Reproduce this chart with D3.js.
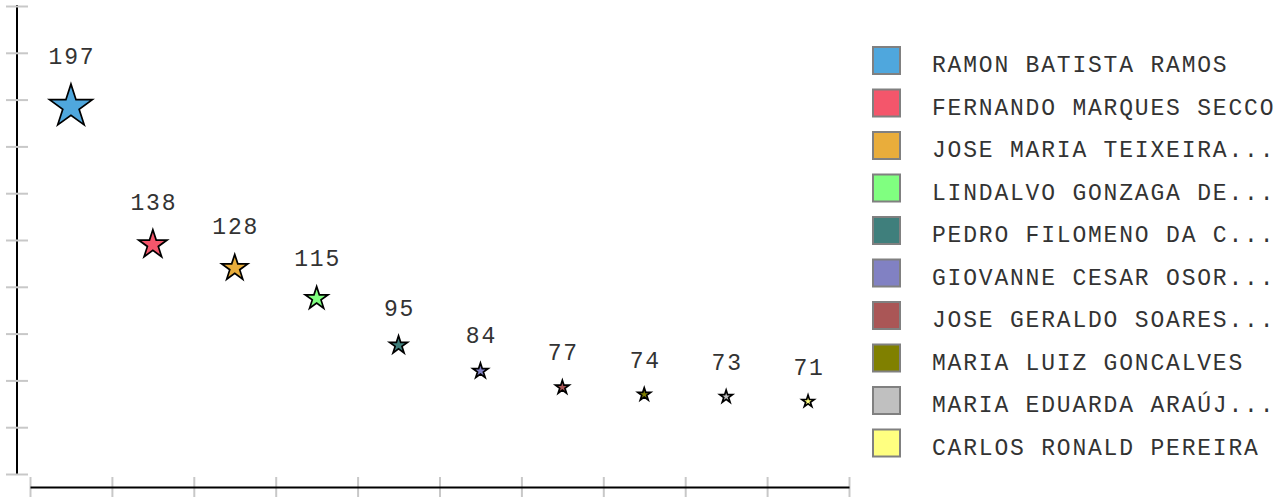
<!DOCTYPE html>
<html>
<head>
<meta charset="utf-8">
<script src="https://cdn.jsdelivr.net/npm/d3@7"></script>
<style>
  body { margin: 0; background: #fff; }
  svg text { font-family: "Liberation Mono", "Courier New", monospace; fill: #333; }
</style>
</head>
<body>
<div id="chart"></div>
<script>
// data
const names = [
    'RAMON BATISTA RAMOS',
    'FERNANDO MARQUES SECCO',
    'JOSE MARIA TEIXEIRA...',
    'LINDALVO GONZAGA DE...',
    'PEDRO FILOMENO DA C...',
    'GIOVANNE CESAR OSOR...',
    'JOSE GERALDO SOARES...',
    'MARIA LUIZ GONCALVES',
    'MARIA EDUARDA ARAÚJ...',
    'CARLOS RONALD PEREIRA'
];
const values = [197, 138, 128, 115, 95, 84, 77, 74, 73, 71];
const colors = ['#4FA7DD', '#F4566B', '#E9AD3B', '#80FF80', '#3F7F7C',
                '#8181C3', '#AA5656', '#808000', '#C0C0C0', '#FFFF80'];
const yDomain = [40, 240];

const width = 1282, height = 497;

const svg = d3.select('#chart').append('svg')
    .attr('width', width)
    .attr('height', height);

const x = d3.scaleBand().domain(names).range([30, 849]).padding(0);
const xIdx = d3.scaleLinear().domain([0, names.length]).range(x.range());
const y = d3.scaleLinear().domain(yDomain).range([474, 6]);
const r = d3.scaleLinear().domain([71, 197]).range([6.4, 22.5]);
const color = d3.scaleOrdinal().domain(names).range(colors);

// y axis (no labels, ticks crossing the line)
const yAxis = svg.append('g')
    .attr('transform', 'translate(17,0)')
    .call(d3.axisLeft(y).ticks(10).tickSizeOuter(0).tickFormat(''));
yAxis.select('.domain').attr('stroke', '#000').attr('stroke-width', 2)
    .attr('d', `M0,${y.range()[0] + 1}V${y.range()[1] - 1}`);
yAxis.selectAll('.tick line')
    .attr('x1', -11).attr('x2', 11)
    .attr('stroke', '#c8c8c8').attr('stroke-width', 2);

// x axis, ticks on band boundaries
const xAxis = svg.append('g')
    .attr('transform', 'translate(0,487)')
    .call(d3.axisBottom(xIdx).ticks(names.length).tickSizeOuter(0).tickFormat(''));
xAxis.selectAll('.tick line')
    .attr('y1', -10).attr('y2', 10)
    .attr('stroke', '#c8c8c8').attr('stroke-width', 2);
xAxis.select('.domain').attr('stroke', '#000').attr('stroke-width', 2).raise();

const data = names.map((n, i) => ({name: n, value: values[i]}));

const star = d3.symbol().type(d3.symbolStar);

const points = svg.append('g').selectAll('g')
    .data(data)
    .join('g')
    .attr('transform', d => `translate(${x(d.name) + x.bandwidth() / 2},${y(d.value)})`);

points.append('path')
    .attr('d', d => star.size(r(d.value) * r(d.value) / 0.8908130915292852)())
    .attr('fill', d => color(d.name))
    .attr('stroke', '#000')
    .attr('stroke-width', 1.7);

points.append('text')
    .attr('y', d => -r(d.value) - 20)
    .attr('text-anchor', 'middle')
    .attr('dx', 1)
    .style('font-size', '23px')
    .style('letter-spacing', '1.8px')
    .text(d => d.value);

// legend
const legend = svg.append('g').selectAll('g')
    .data(data)
    .join('g')
    .attr('transform', (d, i) => `translate(873,${47 + i * 42.5})`);

legend.append('rect')
    .attr('width', 27).attr('height', 27)
    .attr('fill', d => color(d.name))
    .attr('stroke', '#808080')
    .attr('stroke-width', 2);

legend.append('text')
    .attr('x', 59)
    .attr('y', 25)
    .style('font-size', '23px')
    .style('letter-spacing', '1.8px')
    .text(d => d.name);
</script>
</body>
</html>
